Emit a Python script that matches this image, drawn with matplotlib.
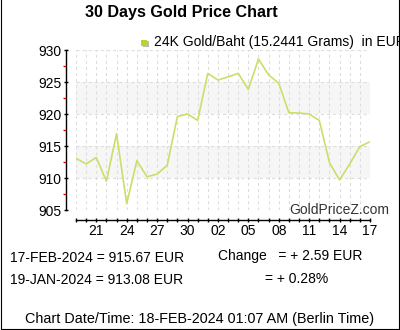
import matplotlib
matplotlib.use("Agg")
import matplotlib.pyplot as plt
from matplotlib.patches import Rectangle
from matplotlib.lines import Line2D
from matplotlib.ticker import FixedLocator, FixedFormatter, MultipleLocator

plt.rcParams['font.family'] = ['Liberation Sans', 'DejaVu Sans']
plt.rcParams['lines.scale_dashes'] = False

# ---- data ----
day_labels = ['19', '20', '21', '22', '23', '24', '25', '26', '27', '28', '29', '30', '31',
              '01', '02', '03', '04', '05', '06', '07', '08', '09', '10', '11', '12', '13',
              '14', '15', '16', '17']
prices = [913.08, 912.2, 913.2, 909.5, 916.9, 906.0, 912.7, 910.2, 910.6, 912.0,
          919.6, 920.0, 919.0, 926.35, 925.3, 925.8, 926.35, 923.85, 928.6, 926.1,
          924.8, 920.2, 920.15, 920.0, 919.0, 912.4, 909.7, 912.2, 914.9, 915.67]
shown_labels = ['21', '24', '27', '30', '02', '05', '08', '11', '14', '17']
y_ticks = [905, 910, 915, 920, 925, 930]
bands = [(910, 915), (920, 925)]

title = '30 Days Gold Price Chart'
legend_label = '24K Gold/Baht (15.2441 Grams)  in EUR'
summary_left = ['17-FEB-2024 = 915.67 EUR', '19-JAN-2024 = 913.08 EUR']
summary_right = ['Change   = + 2.59 EUR', '= + 0.28%']
footer = 'Chart Date/Time: 18-FEB-2024 01:07 AM (Berlin Time)'
watermark = 'GoldPriceZ.com'

W, H = 400, 330
fig = plt.figure(figsize=(W / 100, H / 100), dpi=100)

def fx(px):
    return px / W

def fy(py):
    return 1 - py / H

ax = fig.add_axes([fx(76), fy(210), (370 - 76) / W, (210 - 50) / H])
x = list(range(len(prices)))

for lo, hi in bands:
    ax.axhspan(lo, hi, color='#f6f6f6', lw=0, zorder=0)

ax.plot(x, prices, color='#c8e067', lw=1.2, zorder=3)

ax.set_xlim(0, len(prices) - 1)
ax.set_ylim(y_ticks[0], y_ticks[-1])

for s in ['top', 'right']:
    ax.spines[s].set_visible(False)
ax.spines['left'].set_position(('outward', 7.5))
ax.spines['bottom'].set_position(('outward', 7.5))
ax.spines['left'].set_linewidth(1.0)
ax.spines['bottom'].set_linewidth(1.0)

ax.yaxis.set_major_locator(FixedLocator(y_ticks))
ax.yaxis.set_minor_locator(MultipleLocator(2.5))
ax.tick_params(axis='y', which='major', direction='inout', length=3.4, width=1,
               labelsize=10, pad=1.2, color='black')
ax.tick_params(axis='y', which='minor', direction='out', length=2.2, width=1, color='red')

ax.xaxis.set_major_locator(FixedLocator(x))
ax.xaxis.set_major_formatter(FixedFormatter([d if d in shown_labels and i >= 2 else ''
                                             for i, d in enumerate(day_labels)]))
ax.tick_params(axis='x', which='major', direction='inout', length=3.2, width=1,
               labelsize=10, pad=1.0)

ax.grid(True, axis='x', color='#dddddd', lw=0.8, ls=(0, (2.2, 2.2)), zorder=1)
ax.grid(True, axis='y', color='#dddddd', lw=0.8, ls=(0, (2.2, 2.2)), zorder=1)
ax.set_axisbelow(True)
ax.patch.set_alpha(0)

# title and legend
fig.text(fx(85), fy(13), title, fontsize=11.6, fontweight='bold', va='center', ha='left')
fig.patches.append(Rectangle((fx(142.5), fy(47)), 6 / W, 6 / H, transform=fig.transFigure,
                             color='#bbbbbb', lw=0, zorder=2))
fig.patches.append(Rectangle((fx(141), fy(46)), 6 / W, 6 / H, transform=fig.transFigure,
                             color='#b8d52e', lw=0, zorder=3))
fig.text(fx(154), fy(42), legend_label, fontsize=10, va='center', ha='left', zorder=3)

# watermark
fig.text(fx(389), fy(210.5), watermark, fontsize=10, va='center', ha='right', color='#333333')

# summary
fig.text(fx(10), fy(258.5), summary_left[0], fontsize=10, va='center', ha='left')
fig.text(fx(10), fy(279.5), summary_left[1], fontsize=10, va='center', ha='left')
fig.text(fx(218), fy(256), summary_right[0], fontsize=10, va='center', ha='left')
fig.text(fx(265), fy(279), summary_right[1], fontsize=10, va='center', ha='left')
fig.text(fx(25), fy(318.5), footer, fontsize=10.4, va='center', ha='left')

# clip beyond right border, then border lines
fig.patches.append(Rectangle((fx(398.5), 0), 2 / W, 1, transform=fig.transFigure,
                             color='white', lw=0, zorder=20))
for xs, ys in [([fx(0.5), fx(0.5)], [fy(328.5), 1]),
               ([fx(398.5), fx(398.5)], [fy(328.5), 1]),
               ([fx(0.5), fx(398.5)], [fy(328.5), fy(328.5)])]:
    fig.lines.append(Line2D(xs, ys, transform=fig.transFigure, color='black', lw=0.8, zorder=21))

fig.savefig('out.png', dpi=100)
